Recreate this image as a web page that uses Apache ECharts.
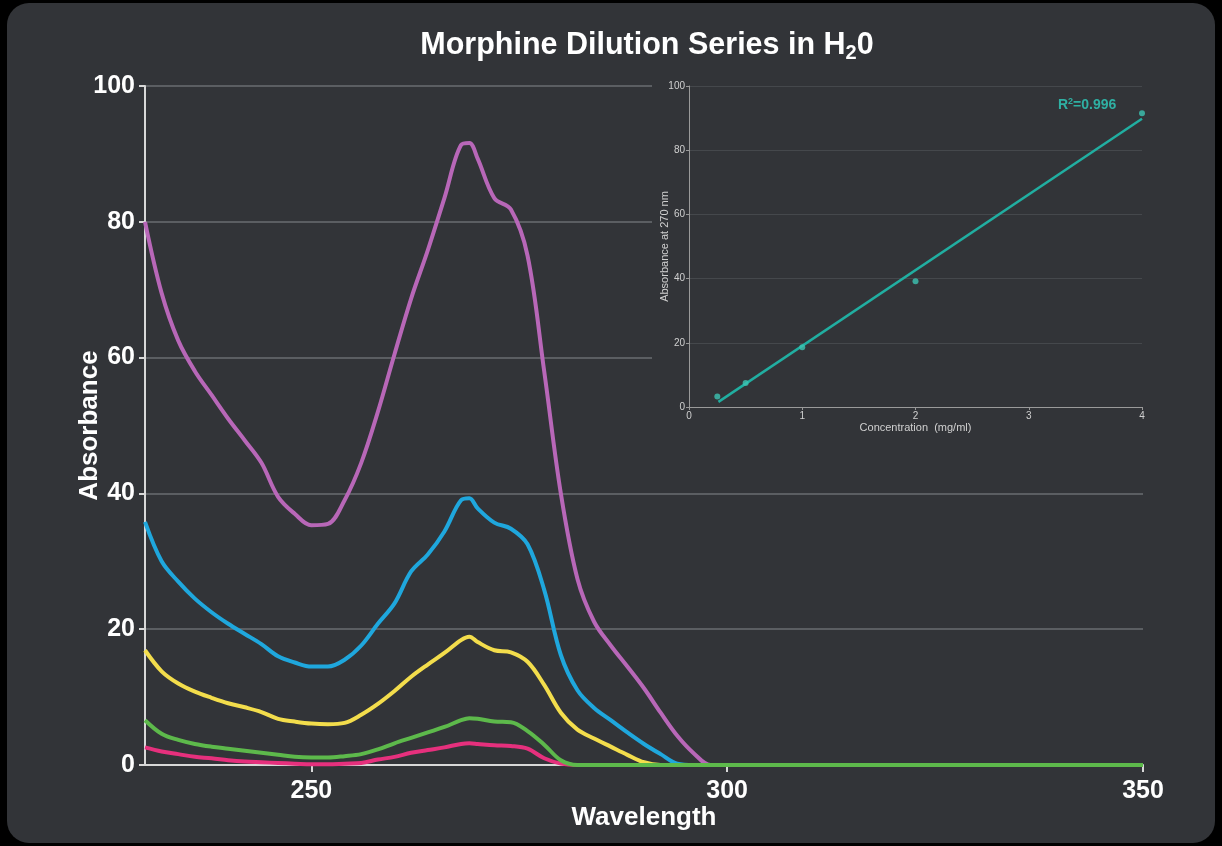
<!DOCTYPE html>
<html>
<head>
<meta charset="utf-8">
<script src="https://cdn.jsdelivr.net/npm/echarts@6/dist/echarts.min.js"></script>
<style>
html,body{margin:0;padding:0;background:#000;width:1222px;height:846px;overflow:hidden}
#card{position:absolute;left:7px;top:3px;width:1208px;height:840px;border-radius:22px;background:#323438}
#chart{position:absolute;left:0;top:0;width:1222px;height:846px}
</style>
</head>
<body>
<div id="card"></div>
<div id="chart"></div>
<script>
// Wavelength (nm)
const wavelengths = [230,232,234,236,238,240,242,244,246,248,250,252,254,256,258,260,262,264,266,268,269,270,272,274,276,278,280,282,284,286,288,290,292,294,296,298,300,350];
// Absorbance series (highest to lowest concentration)
const purple = [80,69.5,62.5,58,54.5,51,47.8,44.5,39.5,37,35.3,35.5,39,44.5,52,60.5,68.7,75.8,83.5,91.3,91.6,89.3,83.5,81.8,75,58,40,27.4,21.1,17.6,14.5,11.3,7.7,4.3,1.7,0,0,0];
const blue   = [35.8,30,27,24.5,22.5,20.8,19.3,17.8,16,15.1,14.5,14.5,15.5,17.6,20.8,23.8,28.5,31,34.4,39,39.3,37.8,35.7,34.8,32.5,25.8,16.2,11,8.4,6.6,4.8,3.1,1.6,0.2,0,0,0,0];
const yellow = [16.9,13.8,12,10.8,9.9,9.1,8.5,7.8,6.8,6.4,6.1,6,6.2,7.4,9,10.9,13,14.8,16.5,18.4,18.9,18.1,16.9,16.6,15.2,11.8,7.7,5.2,3.9,2.7,1.5,0.4,0,0,0,0,0,0];
const green  = [6.6,4.6,3.7,3.1,2.7,2.4,2.1,1.8,1.5,1.2,1.1,1.1,1.3,1.6,2.3,3.2,4,4.8,5.6,6.6,6.9,6.8,6.4,6.3,5,3,0.7,0,0,0,0,0,0,0,0,0,0,0];
const pink   = [2.6,2,1.6,1.2,1,0.7,0.5,0.4,0.3,0.2,0.1,0.1,0.2,0.3,0.8,1.2,1.8,2.2,2.6,3.1,3.2,3.1,2.9,2.8,2.4,1,0.2,0,0,0,0,0,0,0,0,0,0,0];
const xTickLabels = [250,300,350];
// Inset: concentration (mg/ml) vs absorbance at 270 nm
const concentration = [0.25,0.5,1,2,4];
const abs270 = [3.3,7.5,18.6,39.2,91.5];
const fitLine = [[0.26,1.6],[4,89.8]];
const rSquared = '0.996';

const zip = (xs, ys) => xs.map((x, i) => [x, ys[i]]);
const FONT = 'Liberation Sans, Arial, sans-serif';

const chart = echarts.init(document.getElementById('chart'), null, {renderer: 'canvas'});
const lineSeries = (name, data, color) => ({
  name, type: 'line', xAxisIndex: 0, yAxisIndex: 0,
  data: zip(wavelengths, data), smooth: 0.35, showSymbol: false,
  lineStyle: {color, width: 4}, z: 2
});

chart.setOption({
  backgroundColor: 'transparent',
  animation: false,
  title: {
    text: '{a|Morphine Dilution Series in H}{s|2}{a|0}',
    left: 642, textAlign: 'center', top: 23,
    textStyle: {
      rich: {
        a: {fontFamily: FONT, fontSize: 30.5, fontWeight: 'bold', color: '#ffffff'},
        s: {fontFamily: FONT, fontSize: 20, fontWeight: 'bold', color: '#ffffff', padding: [15, 0, 0, 0]}
      }
    }
  },
  graphic: [
    {type: 'rect', left: 652, top: 76, shape: {width: 505, height: 362}, style: {fill: '#323438'}, z: 1, silent: true},
    {type: 'text', left: 1058, top: 97, z: 10, style: {
      text: '{a|R}{s|2}{a|=' + rSquared + '}',
      rich: {
        a: {fill: '#2fb0a3', font: 'bold 14px ' + FONT},
        s: {fill: '#2fb0a3', font: 'bold 9px ' + FONT, padding: [0, 0, 8, 0]}
      }
    }}
  ],
  grid: [
    {left: 145, right: 79, top: 86, bottom: 81},
    {left: 689, right: 80, top: 86, bottom: 439}
  ],
  xAxis: [
    {
      type: 'value', gridIndex: 0, min: 230, max: 350,
      name: 'Wavelength', nameLocation: 'middle', nameGap: 40, nameMoveOverlap: false,
      nameTextStyle: {fontFamily: FONT, fontSize: 26, fontWeight: 'bold', color: '#ffffff'},
      axisLine: {show: true, lineStyle: {color: '#d8d8d8', width: 2}},
      axisTick: {show: true, customValues: xTickLabels, length: 7, lineStyle: {color: '#d8d8d8', width: 2}},
      axisLabel: {customValues: xTickLabels, margin: 14, fontFamily: FONT, fontSize: 25, fontWeight: 'bold', color: '#ffffff'},
      splitLine: {show: false}
    },
    {
      type: 'value', gridIndex: 1, min: 0, max: 4, interval: 1, z: 3,
      name: 'Concentration  (mg/ml)', nameLocation: 'middle', nameGap: 15, nameMoveOverlap: false,
      nameTextStyle: {fontFamily: FONT, fontSize: 11, color: '#d0d0d0'},
      axisLine: {show: true, lineStyle: {color: '#9a9a9a', width: 1}},
      axisTick: {show: true, length: 3, lineStyle: {color: '#9a9a9a'}},
      axisLabel: {margin: 4, fontFamily: FONT, fontSize: 10, color: '#d0d0d0'},
      splitLine: {show: false}
    }
  ],
  yAxis: [
    {
      type: 'value', gridIndex: 0, min: 0, max: 100, interval: 20,
      name: 'Absorbance', nameLocation: 'middle', nameGap: 42, nameMoveOverlap: false,
      nameTextStyle: {fontFamily: FONT, fontSize: 26, fontWeight: 'bold', color: '#ffffff'},
      axisLine: {show: true, lineStyle: {color: '#d8d8d8', width: 2}},
      axisTick: {show: true, length: 6, lineStyle: {color: '#d8d8d8', width: 2}},
      axisLabel: {margin: 10, fontFamily: FONT, fontSize: 25, fontWeight: 'bold', color: '#ffffff'},
      splitLine: {show: true, lineStyle: {color: '#6a6d71', width: 1.5}}
    },
    {
      type: 'value', gridIndex: 1, min: 0, max: 100, interval: 20, z: 3,
      name: 'Absorbance at 270 nm', nameLocation: 'middle', nameGap: 19, nameMoveOverlap: false,
      nameTextStyle: {fontFamily: FONT, fontSize: 11, color: '#d0d0d0'},
      axisLine: {show: true, lineStyle: {color: '#9a9a9a', width: 1}},
      axisTick: {show: true, length: 3, lineStyle: {color: '#9a9a9a'}},
      axisLabel: {margin: 4, fontFamily: FONT, fontSize: 10, color: '#d0d0d0'},
      splitLine: {show: true, lineStyle: {color: '#45484c', width: 1}}
    }
  ],
  series: [
    lineSeries('purple', purple, '#b867b8'),
    lineSeries('blue', blue, '#1fa7dd'),
    lineSeries('yellow', yellow, '#f3dd4c'),
    lineSeries('pink', pink, '#e6307d'),
    lineSeries('green', green, '#5db94b'),
    {
      name: 'fit', type: 'line', xAxisIndex: 1, yAxisIndex: 1, data: fitLine,
      showSymbol: false, lineStyle: {color: '#21aea1', width: 2.5}, z: 5
    },
    {
      name: 'points', type: 'scatter', xAxisIndex: 1, yAxisIndex: 1,
      data: zip(concentration, abs270), symbolSize: 6,
      itemStyle: {color: '#3cc4b3'}, z: 6
    }
  ]
});
</script>
</body>
</html>
